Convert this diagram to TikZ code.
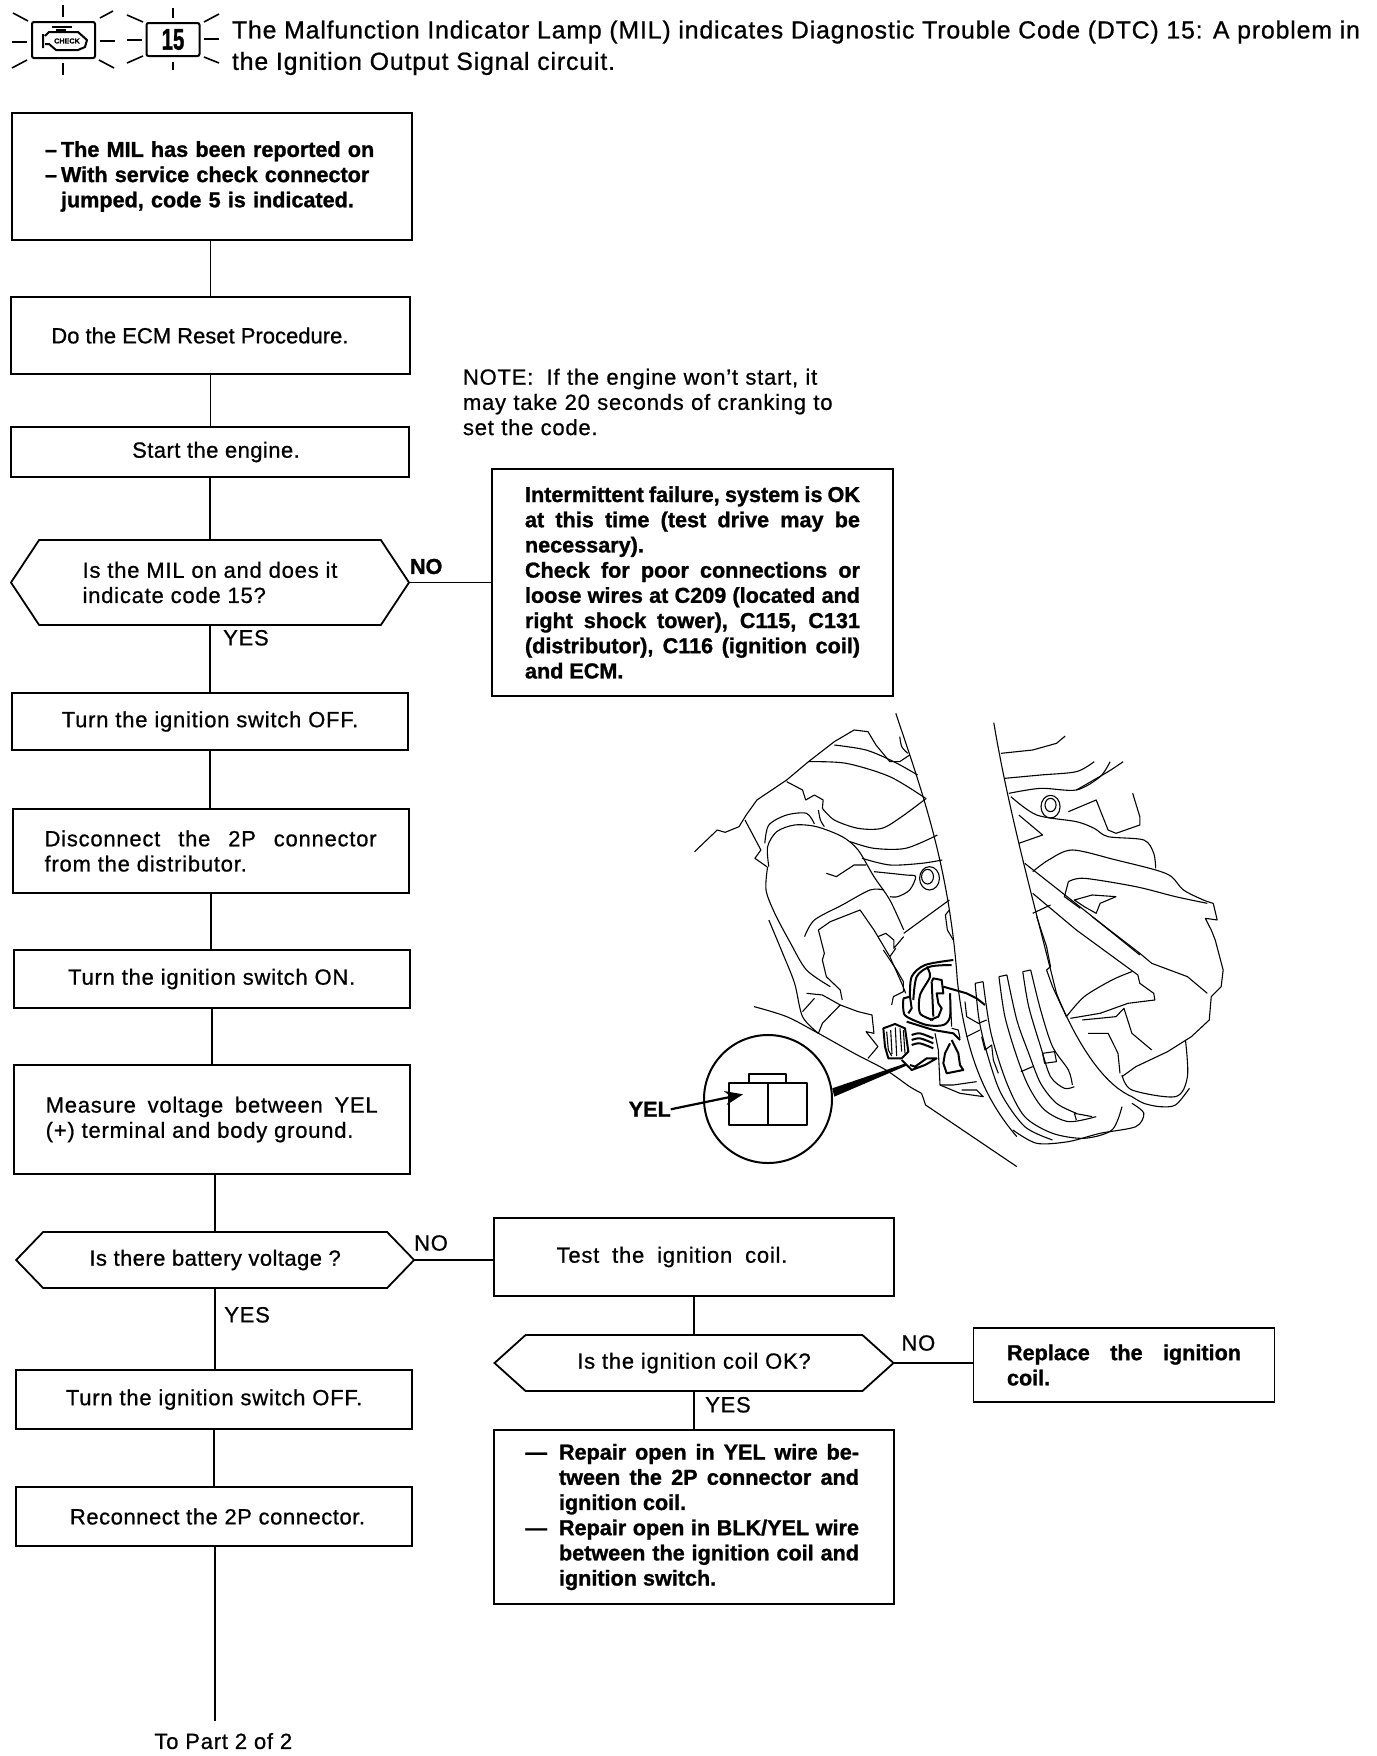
\documentclass[tikz,border=0pt]{standalone}
\usepackage{fontspec}
\setmainfont{Liberation Sans}[LetterSpace=3.5, FakeBold=0.8, BoldFeatures={LetterSpace=0, FakeBold=1.2}]
\usetikzlibrary{arrows.meta,positioning,shapes.symbols}

\begin{document}
\begin{tikzpicture}[
  x=0.5pt, y=-0.5pt,
  font=\fontsize{11}{12.6}\selectfont,
  heading/.style={font=\bfseries\fontsize{10.8}{12.6}\selectfont},
  box/.style={draw, line width=0.9pt, outer sep=0pt, inner sep=0pt, align=center, minimum width=198pt},
  hexbox/.style={draw, line width=0.9pt, outer sep=0pt, inner sep=0pt, align=left, signal, signal to=west and east, minimum width=199pt},
  lbl/.style={inner sep=0pt, outer sep=0pt},
  link/.style={line width=0.9pt},
  rays/.style={line width=0.8pt},
  sketch/.style={line width=0.55pt, line join=round},
  heavy/.style={line width=1pt, line join=round}
]
\useasboundingbox (0,0) rectangle (1376,1756);

\node[lbl, text width=564pt, align=justify, font=\fontsize{12.4}{15.7}\selectfont, anchor=north west] (title) at (232,20.5)
  {The Malfunction Indicator Lamp (MIL) indicates Diagnostic Trouble Code (DTC) 15: A problem in\linebreak the Ignition Output Signal circuit.};
\node[draw, line width=1pt, rounded corners=1pt, minimum width=31.5pt, minimum height=18pt, inner sep=0pt] (lamp) at (63.5,40) {};
\node[draw, line width=1pt, rounded corners=1pt, minimum width=26.5pt, minimum height=16.5pt, inner sep=0pt, font=\bfseries\fontsize{15}{15}\selectfont] (code) at (173,39.5) {\scalebox{.68}[1]{15}};
\node[lbl, font=\bfseries\fontsize{3.6}{4}\selectfont] (check) at (67,41) {CHECK};
\draw[heavy] (43,34) -- (43,48) (45,36) -- (49,32) -- (78,32) -- (87,40) -- (85,47) -- (78,50) -- (56,50) -- (49,44) -- (45,44);
\draw[heavy] (52,27) -- (72,27) (56,30) -- (66,30);
\foreach \xa/\ya/\xb/\yb in {63/5/63/17, 13/13/28/21, 100/18/113/11, 12/42/27/42, 100/41/115/41, 12/68/27/60, 99/60/114/68, 63/63/63/75,
  173/8/173/18, 127/15/143/22, 204/22/219/14, 127/40/142/40, 204/39/219/39, 127/63/143/56, 204/57/219/63, 173/62/173/70}
  \draw[rays] (\xa,\ya) -- (\xb,\yb);

\node[box, minimum width=200pt, minimum height=63.5pt, text width=170pt, align=left, heading] (mil) at (212,176.5)
  {\leftskip=9.5pt\relax\leavevmode\llap{–\hspace{2pt}}The MIL has been reported on\par\leavevmode\llap{–\hspace{2pt}}With service check connector\par jumped, code 5 is indicated.\par};
\node[box, below=28.5pt of mil, xshift=-0.75pt, minimum width=199.5pt, minimum height=38.5pt] (reset) {\addfontfeature{LetterSpace=0}Do the ECM Reset Procedure.\hspace*{10.6pt}};
\node[box, below=26.5pt of reset, xshift=-0.25pt, minimum width=199pt, minimum height=25pt] (start) {\addfontfeature{LetterSpace=2}\hspace*{6pt}Start the engine.};
\node[hexbox, below=31.5pt of start, minimum height=42.5pt, signal pointer angle=113] (ison) {Is the MIL on and does it\\indicate code 15?};
\node[box, below=34pt of ison, minimum height=28.5pt] (off) {Turn the ignition switch OFF.};
\node[box, below=29.5pt of off, xshift=0.3pt, minimum height=42pt, text width=166pt, align=justify] (disc) {Disconnect the 2P connector\linebreak from the distributor.};
\node[box, below=28.5pt of disc, xshift=0.56pt, minimum height=29pt] (on) {Turn the ignition switch ON.};
\node[box, below=28.5pt of on, minimum height=54.5pt, text width=166pt, align=justify] (meas) {Measure voltage between YEL\linebreak (+) terminal and body ground.};
\node[hexbox, below=29pt of meas, xshift=1.7pt, minimum height=28pt, signal pointer angle=92] (batt) {\addfontfeature{LetterSpace=2}Is there battery voltage ?};
\node[box, below=41pt of batt, xshift=-0.5pt, minimum height=29.5pt] (off2) {Turn the ignition switch OFF.};
\node[box, below=29pt of off2, minimum height=29.5pt] (recon) {\addfontfeature{LetterSpace=2.5}\hspace*{3.4pt}Reconnect the 2P connector.};
\coordinate[below=87.5pt of recon, xshift=0.6pt] (bot);
\node[lbl, below=6pt of bot, xshift=4pt] (part) {To Part 2 of 2};

\node[lbl, text width=195pt, align=left] (note) at (658,402) {NOTE:\hspace{3pt} If the engine won't start, it\\may take 20 seconds of cranking to\\set the code.};
\node[box, minimum width=200.5pt, minimum height=113.5pt, text width=167.5pt, align=justify, heading] (fail) at (692.5,582.5)
  {Intermittent failure, system is OK\linebreak at this time (test drive may be\linebreak necessary).\par Check for poor connections or\linebreak loose wires at C209 (located and\linebreak right shock tower), C115, C131\linebreak (distributor), C116 (ignition coil)\linebreak and ECM.};
\node[box, minimum width=200pt, minimum height=39pt] (test) at (694,1257) {Test\hspace{3pt} the\hspace{3pt} ignition\hspace{3pt} coil.\hspace*{22pt}};
\node[hexbox, below=19.5pt of test, minimum width=199.5pt, minimum height=28pt, signal pointer angle=84] (coil) {Is the ignition coil OK?};
\node[box, below=19.5pt of coil, minimum width=200pt, minimum height=87pt, text width=165pt, align=justify, heading] (repair)
  {\leftskip=15pt\relax\leavevmode\llap{—\hspace{6pt}}Repair open in YEL wire be-\linebreak tween the 2P connector and\linebreak ignition coil.\par\leavevmode\llap{—\hspace{6pt}}Repair open in BLK/YEL wire\linebreak between the ignition coil and\linebreak ignition switch.\par\vspace*{-3pt}};
\node[box, right=40pt of coil, yshift=-1pt, minimum width=150.5pt, minimum height=37pt, text width=117pt, align=justify, heading] (repl) {Replace the ignition\linebreak coil.};

\draw[link] (reset.north |- mil.south) -- (reset.north);
\draw[link] (reset.south) -- (reset.south |- start.north);
\draw[link] (start.south) -- (start.south |- ison.north);
\draw[link] (ison.south) -- (ison.south |- off.north);
\draw[link] (off.south) -- (off.south |- disc.north);
\draw[link] (disc.south) -- (disc.south |- on.north);
\draw[link] (on.south) -- (on.south |- meas.north);
\draw[link] (batt.north |- meas.south) -- (batt.north);
\draw[link] (batt.south) -- (batt.south |- off2.north);
\draw[link] (off2.south) -- (off2.south |- recon.north);
\draw[link] (bot |- recon.south) -- (bot);
\draw[link] (ison.east) -- (ison.east -| fail.west);
\draw[link] (batt.east) -- (batt.east -| test.west);
\draw[link] (test.south) -- (test.south |- coil.north);
\draw[link] (coil.south) -- (coil.south |- repair.north);
\draw[link] (coil.east) -- (coil.east -| repl.west);

\node[lbl, right=0.5pt of ison.east, yshift=8pt, heading] (no1) {NO};
\node[lbl, below=2.5pt of ison.south, xshift=18pt] (yes1) {YES};
\node[lbl, right=0pt of batt.east, yshift=8.5pt] (no2) {NO};
\node[lbl, below=9.5pt of batt.south, xshift=16pt] (yes2) {YES};
\node[lbl, right=4pt of coil.east, yshift=10pt] (no3) {NO};
\node[lbl, below=3pt of coil.south, xshift=17pt] (yes3) {YES};

\begin{scope}[shift={(620,700)}, xscale=0.3968, yscale=0.3333]
\draw[sketch] (695,40) .. controls (760,270) and (830,500) .. (850,840) .. controls (870,1060) and (920,1200) .. (1000,1310);
\draw[sketch] (942,68) .. controls (980,340) and (1050,640) .. (1100,880) .. controls (1140,1000) and (1210,1150) .. (1290,1190);
\draw[sketch] plot[smooth] coordinates {(705,110) (710,140) (725,160)};
\draw[sketch] (188,455) -- (245,390) -- (265,397) -- (300,380) -- (318,345) -- (345,300) -- (420,240) -- (475,185) -- (540,125) -- (590,90) -- (625,95) -- (645,135) -- (680,185) -- (705,185) -- (730,165);
\draw[sketch] plot[smooth] coordinates {(540,135) (620,150) (690,185) (750,225)};
\draw[sketch] plot[smooth] coordinates {(475,185) (570,190) (680,230) (770,295)};
\draw[sketch] (420,245) -- (460,270) -- (468,300) -- (490,285) -- (512,300) -- (510,325);
\draw[sketch] plot[smooth] coordinates {(510,325) (540,360) (600,385) (660,385) (710,350) (772,295)};
\draw[sketch] (315,360) -- (355,450) -- (340,475) -- (370,500);
\draw[sketch] plot[smooth] coordinates {(375,500) (372,440) (395,395) (440,375) (495,380) (560,410) (600,450) (640,530) (680,600) (715,690)};
\draw[sketch] plot[smooth] coordinates {(372,500) (368,570) (390,640) (430,730) (470,810) (530,860)};
\draw[sketch] plot[smooth] coordinates {(365,430) (375,375) (420,345) (470,340) (490,372)};
\draw[sketch] plot[smooth] coordinates {(500,330) (505,360) (515,380)};
\draw[sketch] plot[smooth] coordinates {(580,425) (640,445) (720,445) (800,405)};
\draw[sketch] plot[smooth] coordinates {(610,475) (680,495) (760,490) (812,480)};
\draw[sketch] (520,520) -- (545,530) -- (590,495) -- (620,495);
\draw[sketch] plot[smooth] coordinates {(640,515) (720,525) (745,530) (730,570) (700,590) (680,590)};
\draw[sketch] (780,535) ellipse (25 and 35);
\draw[sketch] (775,530) ellipse (15 and 22);
\draw[sketch] plot[smooth] coordinates {(665,570) (630,570) (560,615) (490,660) (465,710)};
\draw[sketch] (500,690) -- (530,665) -- (605,630) -- (640,690) -- (680,770) -- (710,850) -- (720,880);
\draw[sketch] (500,690) -- (515,760) -- (510,780) -- (520,830) -- (555,870) -- (560,900);
\draw[sketch] (715,700) -- (830,600);
\draw[sketch] (650,710) -- (670,700) -- (690,720) -- (690,745) -- (715,710);
\draw[sketch] (680,770) -- (695,745);
\draw[sketch] (830,630) -- (820,645) -- (825,690) -- (840,720);
\draw[sketch] plot[smooth] coordinates {(375,660) (410,760) (440,850) (460,950) (500,1000)};
\draw[sketch] (470,880) -- (510,885) -- (555,915) -- (600,935) -- (635,945) -- (640,1000) -- (620,995) -- (650,1040) -- (625,1075);
\draw[sketch] (555,915) -- (510,970) -- (500,1000);
\draw[sketch] (490,895) -- (460,935);
\draw[sketch] plot[smooth] coordinates {(338,920) (420,950) (500,1000) (590,1060) (670,1110) (730,1160) (760,1180)};
\draw[sketch] (760,1180) -- (770,1215) -- (1000,1400);
\draw[sketch] (960,160) -- (1040,150) -- (1100,130) -- (1122,108);
\draw[sketch] plot[smooth] coordinates {(970,235) (1060,225) (1150,215) (1195,185)};
\draw[sketch] plot[smooth] coordinates {(980,280) (1060,265) (1150,270) (1210,230) (1235,185)};
\draw[sketch] plot[smooth] coordinates {(1150,270) (1230,215) (1268,185)};
\draw[sketch] plot[smooth] coordinates {(985,290) (1050,345) (1150,365) (1195,385) (1230,410) (1320,420) (1345,460) (1350,505)};
\draw[sketch] (1292,280) -- (1310,350) -- (1310,375) -- (1250,400) -- (1230,390) -- (1200,300) -- (1130,335);
\draw[sketch] (1005,345) -- (1065,405) -- (1005,430);
\draw[sketch] (1085,320) ellipse (24 and 34);
\draw[sketch] (1085,315) ellipse (14 and 20);
\draw[sketch] plot[smooth] coordinates {(1040,515) (1080,480) (1140,450) (1250,480) (1350,510) (1390,530) (1420,570) (1470,600) (1495,610)};
\draw[sketch] (1495,610) -- (1505,660) -- (1475,655) -- (1490,690) -- (1500,720) -- (1520,810) -- (1515,860) -- (1490,890) -- (1485,960) -- (1440,1010) -- (1380,1055) -- (1300,1100) -- (1265,1130);
\draw[sketch] (1020,490) -- (1180,640) -- (1310,765);
\draw[sketch] (1040,580) -- (1150,690) -- (1305,825) -- (1310,850) -- (1345,880) -- (1348,900) -- (1280,910) -- (1210,940) -- (1135,955);
\draw[sketch] plot[smooth] coordinates {(1130,545) (1170,535) (1300,560) (1400,590) (1480,610)};
\draw[sketch] (1130,545) -- (1120,590) -- (1160,625);
\draw[sketch] (1190,650) -- (1310,760) -- (1340,790) -- (1430,830) -- (1480,880);
\draw[sketch] (1145,600) -- (1190,585) -- (1250,590) -- (1210,610) -- (1200,640) -- (1170,620) -- cycle;
\draw[sketch] (1040,640) -- (1085,615);
\draw[sketch] (1050,650) -- (1075,740) -- (1085,800) -- (1075,810) -- (1090,860) -- (1125,950);
\draw[sketch] plot[smooth] coordinates {(1125,950) (1170,890) (1240,840) (1290,815)};
\draw[sketch] plot[smooth] coordinates {(895,850) (905,960) (925,1060) (960,1180) (1020,1280) (1090,1320)};
\draw[sketch] plot[smooth] coordinates {(915,845) (935,1000) (975,1150) (1020,1250) (1090,1300) (1170,1315) (1240,1290) (1265,1220)};
\draw[sketch] (895,850) -- (915,845);
\draw[sketch] plot[smooth] coordinates {(955,830) (970,950) (1000,1070) (1030,1160) (1070,1230) (1130,1265) (1200,1250)};
\draw[sketch] plot[smooth] coordinates {(975,825) (1000,960) (1030,1060) (1060,1150) (1100,1210) (1150,1240)};
\draw[sketch] (955,830) -- (975,825);
\draw[sketch] plot[smooth] coordinates {(1015,815) (1030,920) (1060,1040) (1085,1130) (1120,1165) (1145,1160)};
\draw[sketch] plot[smooth] coordinates {(1035,810) (1060,930) (1090,1040) (1130,1110) (1140,1155)};
\draw[sketch] (1015,815) -- (1035,810);
\draw[sketch] plot[smooth] coordinates {(1265,1125) (1290,1170) (1400,1190) (1430,1130) (1425,1020)};
\draw[sketch] plot[smooth] coordinates {(1290,1190) (1320,1210) (1360,1220) (1400,1215) (1435,1165)};
\draw[sketch] plot[smooth] coordinates {(1290,1210) (1320,1240) (1300,1280) (1210,1300) (1130,1325) (1050,1330) (990,1290)};
\draw[sketch] (1165,960) -- (1250,950) -- (1270,925) -- (1290,1000) -- (1340,1050);
\draw[sketch] (1180,1000) -- (1230,1000) -- (1255,1060) -- (1260,1120);
\draw[sketch] (1065,1060) -- (1095,1055) -- (1100,1085) -- (1070,1090) -- cycle;
\draw[sketch] (1145,1240) -- (1190,1250) (1150,1260) -- (1145,1240);
\draw[sketch] (1010,1115) -- (1040,1100);
\fill (535,1165) -- (720,1090) -- (722,1097) -- (540,1190) -- cycle;
\end{scope}

\begin{scope}[shift={(870,950)}, scale=0.3333]
\draw[heavy] (40,235) -- (75,222) -- (105,235) -- (115,305) -- (95,325) -- (55,325) -- (45,290) -- cycle;
\draw[sketch] (50,245) -- (55,300) -- (65,318) (62,240) -- (66,312) (76,232) -- (80,318) (90,235) -- (95,305) (100,240) -- (105,310);
\draw[heavy] plot[smooth] coordinates {(125,255) (150,250) (190,265)};
\draw[heavy] plot[smooth] coordinates {(125,270) (150,265) (190,280)};
\draw[heavy] plot[smooth] coordinates {(125,285) (150,280) (190,295)};
\draw[heavy] (95,330) -- (125,360) -- (165,345) -- (200,325) -- (170,325) -- (135,350) -- (120,345);
\draw[heavy] plot[smooth] coordinates {(100,145) (100,180) (110,200) (170,225) (220,225) (240,200) (240,130)};
\draw[heavy] plot[smooth] coordinates {(120,140) (125,80) (165,45) (250,30)};
\draw[heavy] plot[smooth] coordinates {(130,150) (140,80) (180,50) (245,45)};
\draw[heavy] plot[smooth] coordinates {(170,50) (180,80) (150,135) (150,190) (190,210)};
\draw[heavy] (185,95) -- (190,85) -- (215,90) -- (220,130) -- (200,130) -- (205,160) -- (215,175) -- (205,200) -- (180,210);
\draw[heavy] (185,95) -- (190,200);
\draw[heavy] (100,145) -- (120,140) -- (125,175) -- (115,190);
\draw[heavy] (220,110) -- (290,130) -- (320,145) -- (345,165);
\draw[heavy] (110,215) -- (190,240) -- (250,250) -- (270,270);
\draw[sketch] (195,250) -- (205,300) -- (210,405) -- (270,430) -- (340,440) -- (320,420) -- (275,420);
\draw[heavy] (245,270) -- (265,310) -- (270,345) -- (280,360) -- (230,370) -- (220,340) -- (225,310) -- (240,280);
\draw[sketch] (210,405) -- (250,405) -- (320,395);
\draw[sketch] (285,155) -- (290,200) -- (325,220) -- (350,210);
\draw[sketch] (290,260) -- (330,240);
\draw[sketch] (245,235) -- (265,240) -- (270,265);
\draw[sketch] (335,260) -- (345,300) -- (365,285) -- (370,330) -- (385,370);
\draw[sketch] (40,0) -- (80,60) -- (100,95) -- (100,125) -- (70,140) -- (65,165);
\draw[sketch] (240,130) -- (245,230);
\end{scope}

\node[draw, circle, fill=white, line width=1pt, minimum size=64pt, inner sep=0pt, outer sep=0pt] (inset) at (768,1099) {};
\begin{scope}[shift={(620,700)}, xscale=0.3968, yscale=0.3333]
\draw[heavy, fill=white] (275,1150) rectangle (470,1275);
\draw[heavy] (372,1150) -- (372,1275);
\draw[heavy] (325,1150) -- (325,1122) -- (418,1122) -- (418,1150);
\coordinate (yeltip) at (310,1183);
\node[lbl, heading] (yel) at (75,1228) {YEL};
\draw[line width=1.1pt, -{Stealth[length=9pt,width=7pt]}] (yel.east) -- (yeltip);
\end{scope}
\end{tikzpicture}
\end{document}
